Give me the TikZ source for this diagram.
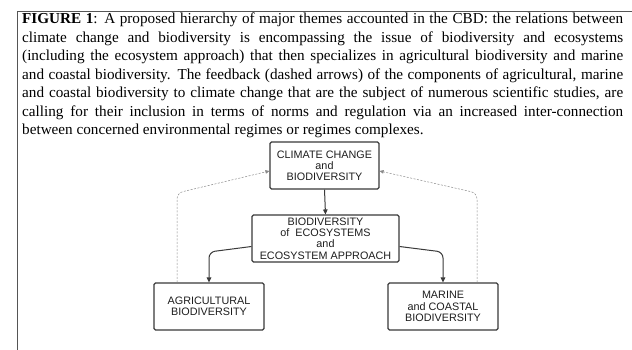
\documentclass[tikz,border=0pt]{standalone}
\usepackage{fontspec}
\setmainfont{Liberation Serif}
\newfontfamily\arialfont{Liberation Sans}
\usetikzlibrary{arrows.meta}
\definecolor{boxgray}{HTML}{3A3A3A}
\definecolor{textgray}{HTML}{1E1E1E}
\definecolor{dashgray}{HTML}{8A8A8A}
\definecolor{framegray}{HTML}{555555}
\begin{document}
\begin{tikzpicture}[x=1pt,y=-1pt,
  captext/.style={anchor=base west, inner sep=0pt, font=\fontsize{15.2}{18.5}\selectfont},
  box/.style={draw=boxgray, line width=1.1pt, rounded corners=1.5pt, text=textgray,
    font=\arialfont\fontsize{10.8}{11.2}\selectfont, align=center, inner sep=0pt,
    minimum height=47pt},
  solidarrow/.style={draw=boxgray, line width=1pt, rounded corners=6pt,
    -{Triangle[length=5pt,width=4.5pt]}},
  dasharrow/.style={draw=dashgray, line width=0.5pt, dash pattern=on 2pt off 1.5pt,
    rounded corners=6pt, -{Triangle[length=4pt,width=3.5pt]}}]
\useasboundingbox (0,0) rectangle (632,350);
\fill[white] (0,0) rectangle (632,350);
\draw[framegray, line width=1pt] (17,350) |- (632,12);

\node[captext] (cap1) at (22,24) {\makebox[601pt][s]{\textbf{FIGURE 1}: A proposed hierarchy of major themes accounted in the CBD: the relations between}};
\node[captext] (cap2) at (22,42.5) {\makebox[601pt][s]{climate change and biodiversity is encompassing the issue of biodiversity and ecosystems}};
\node[captext] (cap3) at (22,61) {\makebox[601pt][s]{(including the ecosystem approach) that then specializes in agricultural biodiversity and marine}};
\node[captext] (cap4) at (22,79.5) {\makebox[601pt][s]{and coastal biodiversity. The feedback (dashed arrows) of the components of agricultural, marine}};
\node[captext] (cap5) at (22,98) {\makebox[601pt][s]{and coastal biodiversity to climate change that are the subject of numerous scientific studies, are}};
\node[captext] (cap6) at (22,116.5) {\makebox[601pt][s]{calling for their inclusion in terms of norms and regulation via an increased inter-connection}};
\node[captext] (cap7) at (22,135) {between concerned environmental regimes or regimes complexes.};

\node[box, minimum width=109pt] (top) at (324.5,165.5) {CLIMATE CHANGE\\and\\BIODIVERSITY};
\node[box, minimum width=147pt] (mid) at (325.5,238.5) {BIODIVERSITY\\of\ \ ECOSYSTEMS\\and\\ECOSYSTEM APPROACH};
\node[box, minimum width=110pt] (agri) at (209,306.5) {AGRICULTURAL\\BIODIVERSITY};
\node[box, minimum width=110pt] (marine) at (443,306.5) {MARINE\\and COASTAL\\BIODIVERSITY};

\coordinate (lbend) at (209,252);
\coordinate (rbend) at (443,252);
\coordinate (ldash) at (177,193);
\coordinate (rdash) at (477,193);

\draw[solidarrow] (top.south) -- (mid.north);
\draw[solidarrow] ([yshift=-8pt]mid.west) -- (lbend) -- (agri.north);
\draw[solidarrow] ([yshift=-8pt]mid.east) -- (rbend) -- (marine.north);

\draw[dasharrow] ([xshift=-32pt]agri.north) -- (ldash) -- ([yshift=-5.5pt]top.west);
\draw[dasharrow] ([xshift=34pt]marine.north) -- (rdash) -- ([yshift=-5.5pt]top.east);
\end{tikzpicture}
\end{document}
